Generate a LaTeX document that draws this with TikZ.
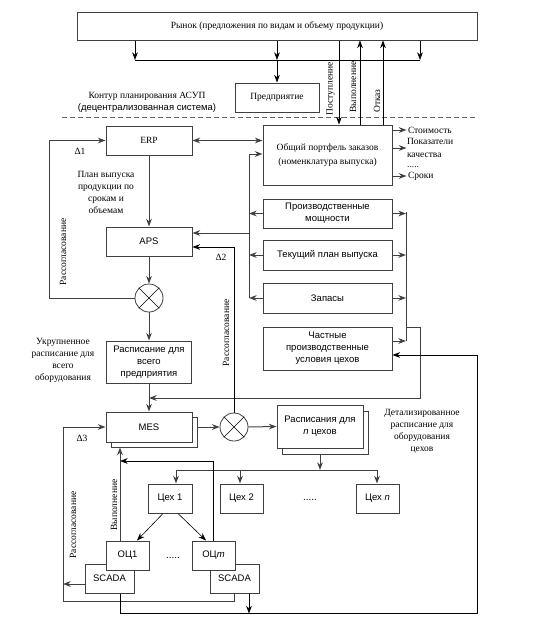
\documentclass[tikz,border=0pt]{standalone}
\usepackage{fontspec}
\setmainfont{Liberation Serif}
\setsansfont{Liberation Sans}
\usetikzlibrary{arrows.meta, positioning, calc}
\tikzset{
  box/.style={draw=black!75, line width=1pt, fill=white, align=center, inner sep=2pt},
  sbox/.style={box, font=\sffamily\fontsize{9.5}{12}\selectfont},
  sumnode/.style={draw=black!75, line width=0.8pt, circle, fill=white, minimum size=28pt, inner sep=0pt},
  wire/.style={line width=1pt, draw=black!75},
  fine/.style={line width=0.6pt, draw=black},
  arr/.style={-{Stealth[length=2.7mm, width=2mm]}, wire},
  darr/.style={{Stealth[length=2.7mm, width=2mm]}-{Stealth[length=2.7mm, width=2mm]}, wire},
  farr/.style={-{Stealth[length=2.7mm, width=2mm]}, fine},
  rlabel/.style={rotate=90, inner sep=0pt},
}

\begin{document}
\begin{tikzpicture}[x=1pt, y=-1pt, font=\fontsize{9.5}{12}\selectfont]
  \useasboundingbox (0,0) rectangle (545,624);
  % market and enterprise
  \node[box, minimum width=400pt, minimum height=28pt] (market) at (277,26) {Рынок (предложения по видам и объему продукции)};
  \node[box, minimum width=84pt, minimum height=29pt] (firm) at (277,97.5) {Предприятие};
  \node[align=center] (contour) at (147,102.5) {Контур планирования АСУП\\{\sffamily (децентрализованная система)}};
  \draw[black!60, line width=1pt, dash pattern=on 5pt off 3pt] (62,117) -- (478,117);

  % planning level
  \node[box, minimum width=86pt, minimum height=29pt] (erp) at (149,140.5) {ERP};
  \node[sbox, minimum width=86pt, minimum height=29pt] (aps) at (149,241.5) {APS};
  \node[sumnode] (sum1) at (149,298) {};
  \node[sbox, minimum width=85pt, minimum height=42pt] (entsch) at (149,362) {Расписание для\\всего\\предприятия};
  \node[box, minimum width=129pt, minimum height=60pt, font=\fontsize{9.5}{14}\selectfont] (port) at (327.5,155) {Общий портфель заказов\\(номенклатура выпуска)};
  \node[sbox, minimum width=129pt, minimum height=29pt] (cap) at (327.5,213.5) {Производственные\\мощности};
  \node[sbox, minimum width=129pt, minimum height=30pt] (cur) at (327.5,255) {Текущий план выпуска};
  \node[sbox, minimum width=129pt, minimum height=30pt] (stock) at (327.5,298) {Запасы};
  \node[sbox, minimum width=129pt, minimum height=43pt] (local) at (327.5,348.5) {Частные\\производственные\\условия цехов};

  % execution level
  \node[sbox, minimum width=86pt, minimum height=30pt] (messh) at (154,432) {};
  \node[sbox, minimum width=86pt, minimum height=30pt] (mes) at (149,427) {MES};
  \node[sumnode] (sum2) at (234,427) {};
  \node[sbox, minimum width=86pt, minimum height=43pt] (shopsh) at (325,432.5) {};
  \node[sbox, minimum width=86pt, minimum height=43pt] (shopsch) at (320,426.5) {Расписания для\\\textit{n} цехов};
  \node[sbox, minimum width=44pt, minimum height=29pt] (shop1) at (170,498.5) {Цех 1};
  \node[sbox, minimum width=43pt, minimum height=29pt] (shop2) at (241.5,498.5) {Цех 2};
  \node[sbox, minimum width=43pt, minimum height=29pt] (shopn) at (377.5,498.5) {Цех \textit{n}};
  \node[font=\sffamily] (sdots) at (310,500) {.....};
  \node[sbox, minimum width=49pt, minimum height=29pt] (scada1) at (109.5,578.5) {\raisebox{-5pt}{SCADA}};
  \node[sbox, minimum width=49pt, minimum height=29pt] (scadam) at (234.5,578.5) {\raisebox{-5pt}{SCADA}};
  \node[sbox, minimum width=43pt, minimum height=29pt] (oc1) at (127.5,555.5) {ОЦ1};
  \node[sbox, minimum width=43pt, minimum height=29pt] (ocm) at (213.5,555.5) {ОЦ\textit{m}};
  \node[font=\sffamily] (odots) at (173,558) {.....};
  \foreach \s in {sum1, sum2} {
    \draw[fine] (\s.north west) -- (\s.south east);
    \draw[fine] (\s.north east) -- (\s.south west);
  }

  % market links
  \coordinate (busl) at (135,60);
  \coordinate (busr) at (420,60);
  \draw[fine] (busl) -- (busr);
  \foreach \xx in {135,277,420}
    \draw[farr] (\xx,0 |- market.south) -- (\xx,0 |- busl);
  \draw[farr] (firm.north |- busl) -- (firm.north);
  \draw[farr] (339,0 |- market.south) -- (339,0 |- port.north);
  \draw[farr] (360,0 |- port.north) -- (360,0 |- market.south);
  \draw[farr] (383,0 |- port.north) -- (383,0 |- market.south);
  \node[rlabel] (inlbl) at (330.5,88.5) {Поступление};
  \node[rlabel] (donelbl) at (353,87) {Выполнение};
  \node[rlabel] (refuselbl) at (377,101) {Отказ};

  % portfolio outputs
  \draw[arr] ([yshift=25pt]port.east) -- ++(14,0) node[right, inner sep=1pt] (cost) {Стоимость};
  \draw[arr] ([yshift=7pt]port.east) -- ++(14,0) node[right, inner sep=0pt, align=left, font=\fontsize{9.5}{12.5}\selectfont] (quality) {Показатели\\качества};
  \node[right, inner sep=0pt] (pdots) at (407,167) {.....};
  \draw[arr] ([yshift=-21pt]port.east) -- ++(14,0) node[right, inner sep=1pt] (terms) {Сроки};

  % planning links
  \draw[darr] (erp.east) -- (erp.east -| port.west);
  \draw[arr] (erp.south) -- (aps.north);
  \node[align=center, font=\fontsize{9.5}{12}\selectfont] (planlbl) at (106,192) {План выпуска\\продукции по\\срокам и\\объемам};
  \draw[arr] (aps.south) -- (sum1.north);
  \draw[arr] (sum1.south) -- (entsch.north);
  \draw[arr] (entsch.south) -- (mes.north);
  \coordinate (lp1) at (49,298);
  \draw[arr] (sum1.west) -- (lp1) |- (erp.west);
  \node (d1) at (80,151) {Δ1};
  \node[rlabel] (mis1) at (63,252) {Рассогласование};
  \node[align=center] (coarse) at (63,360) {Укрупненное\\расписание для\\всего\\оборудования};

  % left bus
  \coordinate (lbt) at (249,154);
  \coordinate (lbb) at (249,298);
  \draw[wire] (lbt) -- (lbb);
  \draw[arr] (lbt) -- (lbt -| port.west);
  \draw[arr] (cap.west) -- (cap.west -| lbt);
  \draw[arr] (cur.west) -- (cur.west -| lbt);
  \draw[arr] (stock.west) -- (stock.west -| lbt);
  \draw[arr] (249,233) -- (249,233 -| aps.east);

  % right bus
  \coordinate (rbt) at (406,212);
  \coordinate (rbb) at (406,341);
  \draw[wire] (rbt) -- (rbb);
  \draw[arr] (cap.east) -- (cap.east -| rbt);
  \draw[arr] (cur.east) -- (cur.east -| rbt);
  \draw[arr] (stock.east) -- (stock.east -| rbt);
  \draw[arr] ([yshift=7.5pt]local.east) -- ([yshift=7.5pt]local.east -| rbt);
  \draw[arr] (406,327) -- (420,327) -- (420,398) -- (mes.north |- 420,398);

  % execution links
  \draw[farr] (sum2.north) |- ([yshift=-5.5pt]aps.east);
  \node (d2) at (221,257) {Δ2};
  \node[rlabel] (mis2) at (226,333) {Рассогласование};
  \draw[arr] (messh.east |- mes.east) -- (sum2.west);
  \draw[arr] (sum2.east) -- (shopsch.west);
  \node[align=center] (detail) at (422,431) {Детализированное\\расписание для\\оборудования\\цехов};
  \coordinate (sbl) at (176,470);
  \coordinate (sbr) at (377,470);
  \draw[wire] (sbl) -- (sbr);
  \draw[arr] (shopsch.south |- shopsh.south) -- (shopsch.south |- sbl);
  \draw[arr] (sbl) -- (sbl |- shop1.north);
  \draw[arr] (240,470) -- (240,0 |- shop2.north);
  \draw[arr] (sbr) -- (sbr |- shopn.north);
  \draw[farr] ([xshift=-7pt]shop1.south) -- ([xshift=9.5pt]oc1.north);
  \draw[farr] ([xshift=8pt]shop1.south) -- ([xshift=-7.5pt]ocm.north);

  % feedback from shops
  \coordinate (upj) at (120,461);
  \draw[arr] ([xshift=-7.5pt]oc1.north) -- ([xshift=-7.5pt]oc1.north |- messh.south);
  \draw[farr] (ocm.north) |- (upj);
  \node[rlabel] (done2) at (114,505) {Выполнение};
  \coordinate (lp3) at (63,427);
  \draw[arr] (scadam.south) -- ++(0,8) -| (lp3) -- (mes.west);
  \draw[arr] ([yshift=-5.5pt]scada1.west) -- ([yshift=-5.5pt]scada1.west -| lp3);
  \node (d3) at (82,438) {Δ3};
  \node[rlabel] (mis3) at (73,525) {Рассогласование};
  \draw[farr] ([xshift=14.5pt]scadam.south) -- ++(0,20);
  \draw[farr] ([xshift=10.5pt]scada1.south) |- (477,613) |- ([yshift=-6.5pt]local.east);
\end{tikzpicture}
\end{document}
